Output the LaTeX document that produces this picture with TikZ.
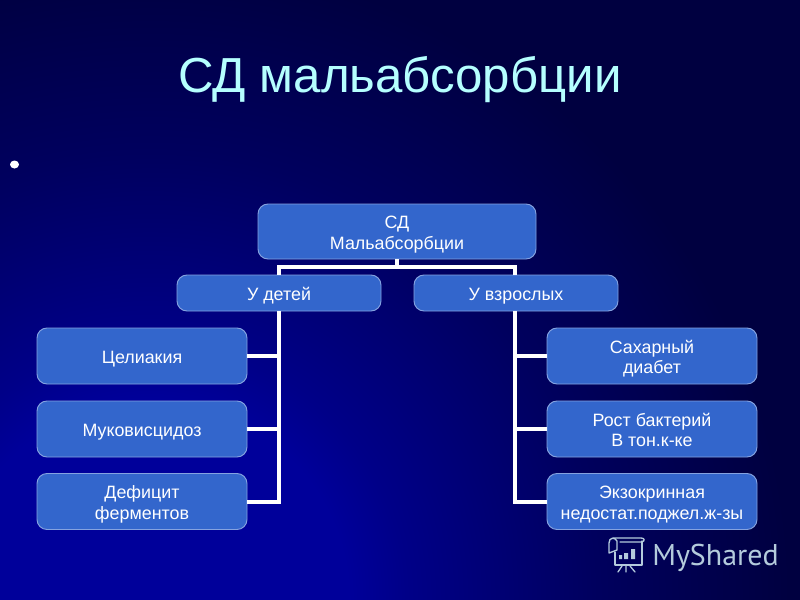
\documentclass[tikz,border=0pt]{standalone}
\usepackage{fontspec}
\setmainfont{Liberation Sans}
\newfontfamily\logofont{PT Sans}
\definecolor{boxblue}{HTML}{3366CC}
\definecolor{titlecyan}{HTML}{B5FFFF}
\definecolor{logogray}{HTML}{B4CBDC}
\definecolor{bgA}{HTML}{00009A}
\definecolor{bgB}{HTML}{000088}
\definecolor{bgC}{HTML}{00005E}
\definecolor{bgD}{HTML}{000040}
% radius 1000 units = 25bp
\pgfdeclareradialshading{bgshade}{\pgfpoint{0bp}{0bp}}{color(0bp)=(bgA); color(4.96bp)=(bgA); color(6.4bp)=(bgB); color(11.2bp)=(bgC); color(16bp)=(bgD); color(25bp)=(bgD); color(50bp)=(bgD)}
\newcommand{\boxtext}[1]{\raisebox{-6.2pt}[0pt][0pt]{\fontsize{13.4}{15.4}\selectfont\begin{tabular}{@{}c@{}}#1\end{tabular}}}
\tikzset{
 x=0.75pt,y=-0.75pt,
 orgbox/.style={draw=white!40!boxblue,line width=0.7pt,fill=boxblue,rounded corners=7.5pt,text=white,inner sep=0pt},
 conn/.style={draw=white,line width=3pt,line join=miter},
 logo/.style={draw=logogray,line width=1pt,line cap=round,line join=round}
}
\begin{document}
\begin{tikzpicture}
\useasboundingbox (0,0) rectangle (800,600);
\fill[bgD] (0,0) rectangle (800,600);
\begin{scope}
\clip (0,0) rectangle (800,600);
\shade[shading=bgshade] (150,600) circle (1000);
\end{scope}
\node[text=titlecyan,font=\fontsize{36.9}{40}\selectfont,anchor=center] (title) at (400,79.5) {СД мальабсорбции};
\fill[white] (14.5,164.5) ellipse (4.5 and 4);
\coordinate (rootdrop) at (397,267);
\coordinate (lt) at (279,267);
\coordinate (rt) at (515,267);
\coordinate (lb) at (279,501.5);
\coordinate (rb) at (515,501.5);
\node[orgbox,minimum width=208.5pt,minimum height=41.25pt] (root) at (397,231.5) {\boxtext{СД\\Мальабсорбции}};
\node[orgbox,minimum width=153pt,minimum height=27pt] (kids) at (279,293) {\boxtext{У детей}};
\node[orgbox,minimum width=153pt,minimum height=27pt] (adults) at (516,293) {\boxtext{У взрослых}};
\node[orgbox,minimum width=157.5pt,minimum height=42pt] (a) at (142,356) {\boxtext{Целиакия}};
\node[orgbox,minimum width=157.5pt,minimum height=42pt] (b) at (142,429) {\boxtext{Муковисцидоз}};
\node[orgbox,minimum width=157.5pt,minimum height=42pt] (c) at (142,501.5) {\boxtext{Дефицит\\ферментов}};
\node[orgbox,minimum width=157.5pt,minimum height=42pt] (d) at (652,356) {\boxtext{Сахарный\\диабет}};
\node[orgbox,minimum width=157.5pt,minimum height=42pt] (e) at (652,429) {\boxtext{Рост бактерий\\В тон.к-ке}};
\node[orgbox,minimum width=157.5pt,minimum height=42pt] (f) at (652,501.5) {\boxtext{Экзокринная\\недостат.поджел.ж-зы}};
\draw[conn] (root.south) -- (rootdrop);
\draw[conn] (kids.north -| lt) -- (lt) -- (rt) -- (adults.north -| rt);
\draw[conn] (kids.south -| lt) -- (lb) -- (c.east);
\draw[conn] (adults.south -| rt) -- (rb) -- (f.west);
\draw[conn] (a.east) -- (a.east -| lt);
\draw[conn] (b.east) -- (b.east -| lt);
\draw[conn] (d.west) -- (d.west -| rt);
\draw[conn] (e.west) -- (e.west -| rt);
\node[text=logogray,font=\logofont\fontsize{22.5}{26}\selectfont,anchor=base west,inner sep=0pt] (brand) at (652,565) {MyShared};
\draw[logo] (615,552) -- (615,565) -- (642,565) -- (642,541);
\draw[logo] (609,553) -- (609,543) .. controls (609,537) and (615,537) .. (617,541) -- (617,550) -- (609,553);
\draw[logo] (613,538) -- (641,538) .. controls (645,538) and (645,541) .. (642,542) -- (620,542);
\draw[logo] (622,566) -- (618,572) (626,566) -- (626,572) (630,566) -- (635,572);
\fill[logogray] (619,555) rectangle (622,559) (624,553) rectangle (628,559) (631,549) rectangle (635,559);
\end{tikzpicture}
\end{document}
